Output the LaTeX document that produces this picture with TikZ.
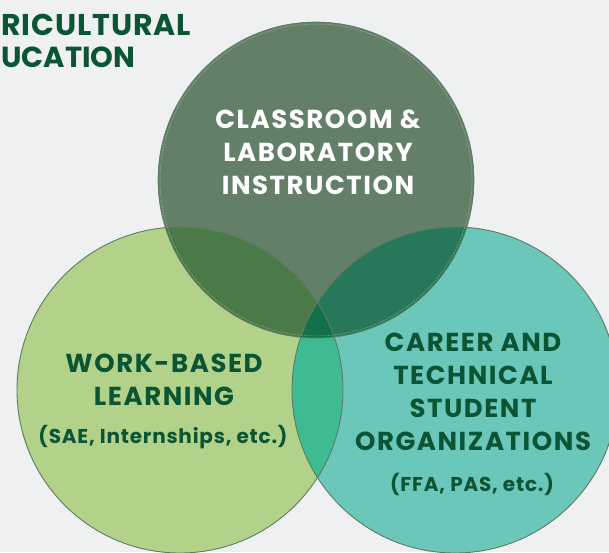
\documentclass[tikz,border=0pt]{standalone}
\usepackage{fontspec}
\setmainfont{Poppins}
\definecolor{bg}{HTML}{EFF0F2}
\definecolor{ctop}{HTML}{647F67}
\definecolor{cleft}{HTML}{B2D28A}
\definecolor{cright}{HTML}{6CC7BB}
\definecolor{ctl}{HTML}{4A7A47}
\definecolor{ctr}{HTML}{27785A}
\definecolor{clr}{HTML}{3EBB93}
\definecolor{call}{HTML}{137049}
\definecolor{edge}{HTML}{5E7A62}
\definecolor{txt}{HTML}{0B5434}
\begin{document}
\begin{tikzpicture}[x=1pt,y=-1pt,
  disc/.style={circle, inner sep=0pt, minimum size=#1},
  bigtxt/.style={font=\bfseries\fontsize{26}{33}\selectfont\addfontfeature{LetterSpace=6}, align=center, text=txt},
  smalltxt/.style={font=\bfseries\fontsize{20}{22}\selectfont\addfontfeature{LetterSpace=4}, align=center, text=txt},
  title/.style={font=\bfseries\fontsize{30}{33}\selectfont\addfontfeature{LetterSpace=3}, text=txt, anchor=west, inner sep=0pt},
  outline/.style={draw=edge, line width=0.9pt}]
\useasboundingbox (0,0) rectangle (609,552);
\fill[bg] (0,0) rectangle (609,552);
\def\rt{158}\def\rs{163}
\node[disc=316pt, fill=ctop] (top) at (316,180) {};
\node[disc=326pt, fill=cleft] (left) at (180,390) {};
\node[disc=326pt, fill=cright] (right) at (455,390) {};
% pairwise overlaps
\begin{scope}
  \clip (top.center) circle[radius=\rt];
  \fill[ctl] (left.center) circle[radius=\rs];
  \fill[ctr] (right.center) circle[radius=\rs];
\end{scope}
\begin{scope}
  \clip (left.center) circle[radius=\rs];
  \fill[clr] (right.center) circle[radius=\rs];
  \clip (right.center) circle[radius=\rs];
  \fill[call] (top.center) circle[radius=\rt];
\end{scope}
% outlines
\draw[outline] (left.center) circle[radius=\rs];
\draw[outline] (right.center) circle[radius=\rs];
\draw[draw=edge, line width=0.6pt] (top.center) circle[radius=\rt];
\draw[white, opacity=0.35, line width=0.5pt, dash pattern=on 2pt off 1pt] (top.center) circle[radius=\rt-2];
% texts
\node[title] (ag) at (1,25) {RICULTURAL};
\node[title, font=\bfseries\fontsize{29}{33}\selectfont] (ed) at (1,57) {UCATION};
\node[bigtxt, text=white] (ttop) at (318,152) {CLASSROOM \&\\LABORATORY\\INSTRUCTION};
\node[bigtxt] (tleft) at (164,380) {WORK-BASED\\LEARNING};
\node[smalltxt] (sleft) at (163,437) {(SAE, Internships, etc.)};
\node[bigtxt] (tright) at (473,392) {CAREER AND\\TECHNICAL\\STUDENT\\ORGANIZATIONS};
\node[smalltxt] (sright) at (472,484) {(FFA, PAS, etc.)};
\end{tikzpicture}
\end{document}
